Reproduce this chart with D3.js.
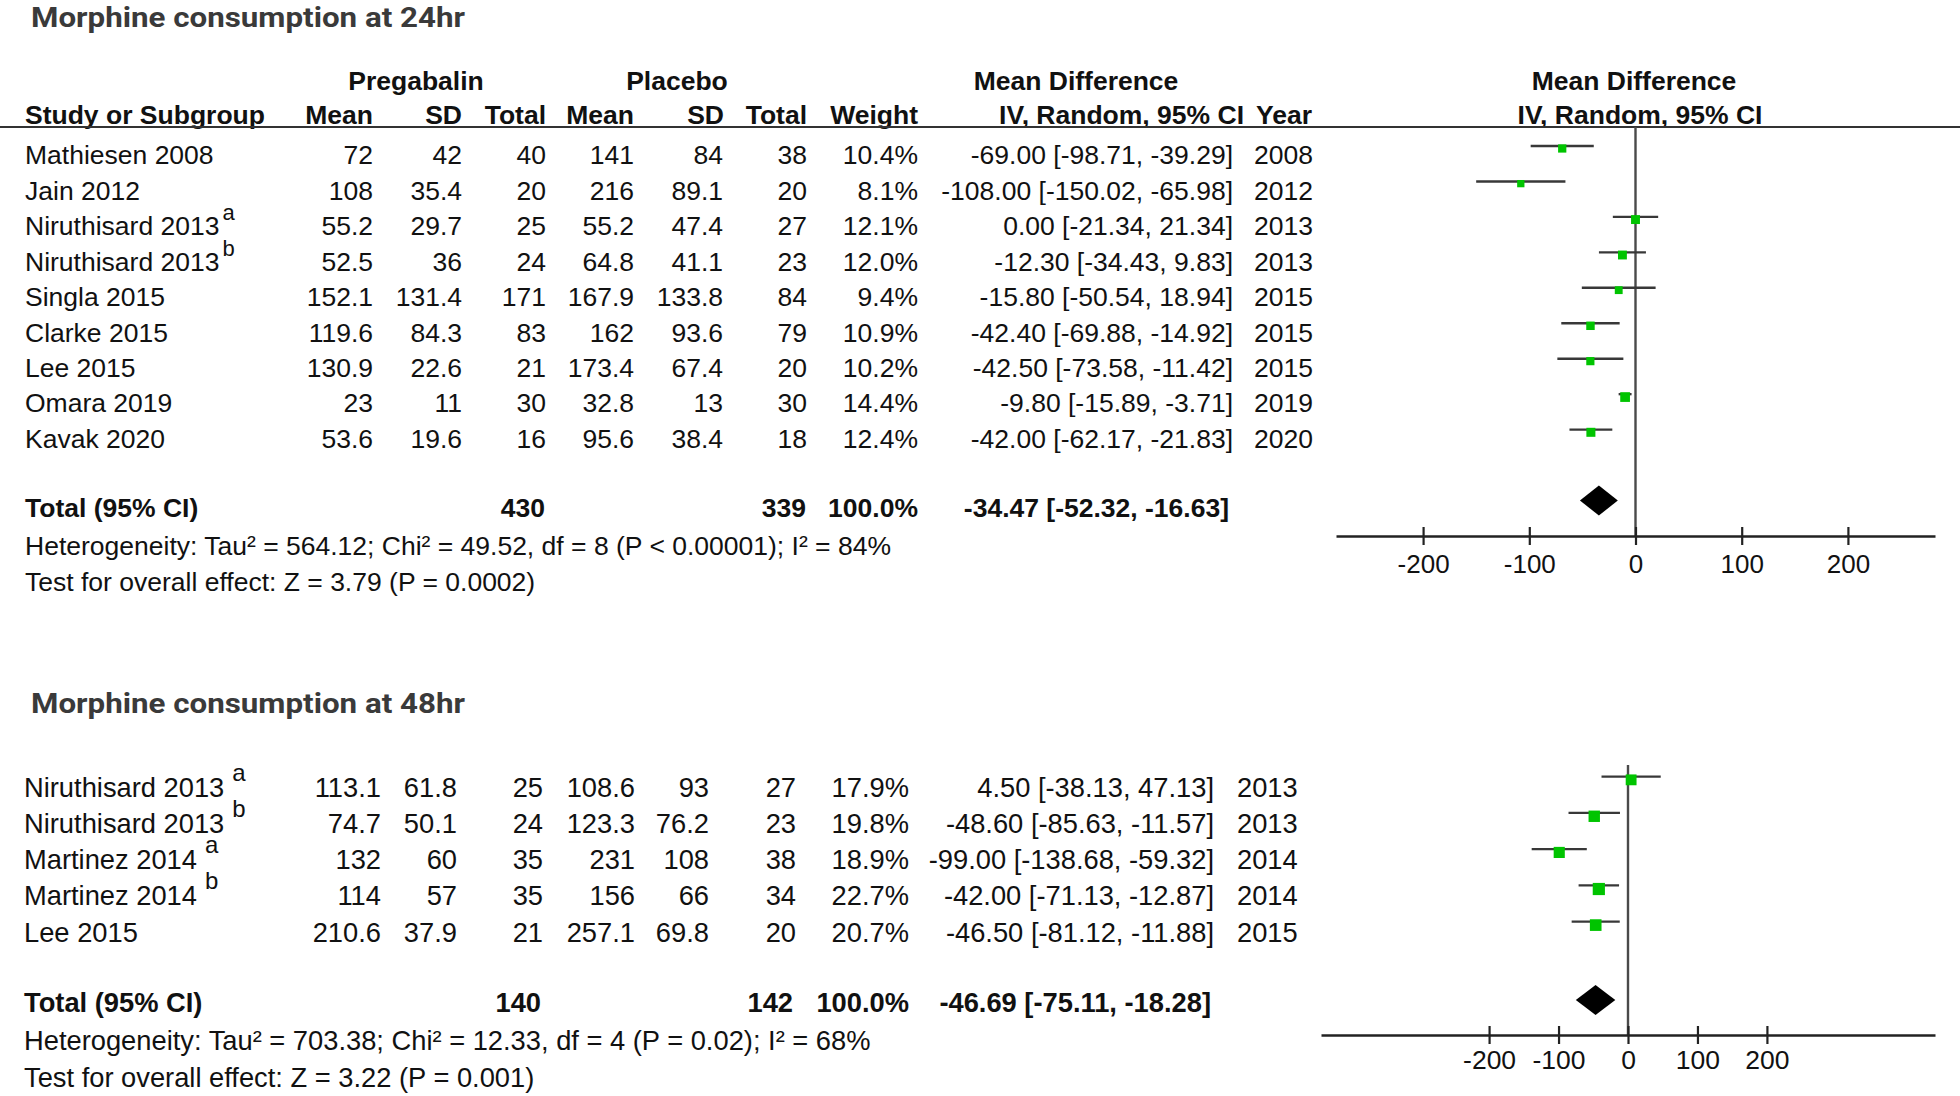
<!DOCTYPE html>
<html><head><meta charset="utf-8">
<script src="https://cdn.jsdelivr.net/npm/d3@7"></script>
<style>html,body{margin:0;padding:0;background:#fff;} svg{display:block;}</style>
</head><body>
<svg id="chart" width="1960" height="1096"></svg>
<script>
// ---------- DATA: Morphine consumption at 24hr ----------
const title24 = "Morphine consumption at 24hr";
const studies24 = ["Mathiesen 2008","Jain 2012","Niruthisard 2013","Niruthisard 2013","Singla 2015","Clarke 2015","Lee 2015","Omara 2019","Kavak 2020"];
const sup24 = ["","","a","b","","","","",""];
const pregMean24 = [72,108,55.2,52.5,152.1,119.6,130.9,23,53.6];
const pregSD24 = [42,35.4,29.7,36,131.4,84.3,22.6,11,19.6];
const pregN24 = [40,20,25,24,171,83,21,30,16];
const placMean24 = [141,216,55.2,64.8,167.9,162,173.4,32.8,95.6];
const placSD24 = [84,89.1,47.4,41.1,133.8,93.6,67.4,13,38.4];
const placN24 = [38,20,27,23,84,79,20,30,18];
const weight24 = [10.4,8.1,12.1,12.0,9.4,10.9,10.2,14.4,12.4];
const md24 = [-69.00,-108.00,0.00,-12.30,-15.80,-42.40,-42.50,-9.80,-42.00];
const lo24 = [-98.71,-150.02,-21.34,-34.43,-50.54,-69.88,-73.58,-15.89,-62.17];
const hi24 = [-39.29,-65.98,21.34,9.83,18.94,-14.92,-11.42,-3.71,-21.83];
const year24 = [2008,2012,2013,2013,2015,2015,2015,2019,2020];
const total24 = {pregN:430, placN:339, weight:100.0, md:-34.47, lo:-52.32, hi:-16.63};
const het24 = "Heterogeneity: Tau² = 564.12; Chi² = 49.52, df = 8 (P < 0.00001); I² = 84%";
const test24 = "Test for overall effect: Z = 3.79 (P = 0.0002)";

// ---------- DATA: Morphine consumption at 48hr ----------
const title48 = "Morphine consumption at 48hr";
const studies48 = ["Niruthisard 2013","Niruthisard 2013","Martinez 2014","Martinez 2014","Lee 2015"];
const sup48 = ["a","b","a","b",""];
const pregMean48 = [113.1,74.7,132,114,210.6];
const pregSD48 = [61.8,50.1,60,57,37.9];
const pregN48 = [25,24,35,35,21];
const placMean48 = [108.6,123.3,231,156,257.1];
const placSD48 = [93,76.2,108,66,69.8];
const placN48 = [27,23,38,34,20];
const weight48 = [17.9,19.8,18.9,22.7,20.7];
const md48 = [4.50,-48.60,-99.00,-42.00,-46.50];
const lo48 = [-38.13,-85.63,-138.68,-71.13,-81.12];
const hi48 = [47.13,-11.57,-59.32,-12.87,-11.88];
const year48 = [2013,2013,2014,2014,2015];
const total48 = {pregN:140, placN:142, weight:100.0, md:-46.69, lo:-75.11, hi:-18.28};
const het48 = "Heterogeneity: Tau² = 703.38; Chi² = 12.33, df = 4 (P = 0.02); I² = 68%";
const test48 = "Test for overall effect: Z = 3.22 (P = 0.001)";

// ---------- AXIS / HEADER LABELS ----------
const tickValues = [-200,-100,0,100,200];
const groupHeaders = ["Pregabalin","Placebo","Mean Difference","Mean Difference"];
const colHeaders = ["Study or Subgroup","Mean","SD","Total","Mean","SD","Total","Weight","IV, Random, 95% CI","Year","IV, Random, 95% CI"];
const totalLabel = "Total (95% CI)";

// ---------- DRAWING ----------
const svg = d3.select("#chart");
const FONT = "'Liberation Sans', Arial, Helvetica, sans-serif";
const INK = "#111";

function txt(g, x, y, s, o = {}) {
  return g.append("text").attr("x", x).attr("y", y).text(s)
    .attr("font-family", FONT).attr("font-size", o.size || 26.5)
    .attr("font-weight", o.bold ? "bold" : "normal")
    .attr("text-anchor", o.anchor || "start").attr("fill", o.fill || INK);
}
const fmtCI = (m, l, h) => `${m.toFixed(2)} [${l.toFixed(2)}, ${h.toFixed(2)}]`;

function drawTitle(y, s) {
  svg.append("text").attr("x", 31).attr("y", y).text(s)
    .attr("font-family", "Roboto, 'Open Sans', sans-serif")
    .attr("font-weight", 700).attr("font-size", 28.5).attr("fill", "#3a3a3a")
    .attr("textLength", 434).attr("lengthAdjust", "spacingAndGlyphs");
}

function drawPanel(p) {
  const g = svg.append("g");
  const n = p.studies.length;
  const yLine = d3.scaleLinear().domain([0, n - 1]).range(p.rowRange);
  const x = d3.scaleLinear().domain(p.domain).range(p.xRange);
  const size = d3.scaleSqrt().domain([0, 25]).range([0, 12.8]);
  const fs = p.fs, c = p.cols;
  const base = i => yLine(i) + p.textOff;

  // table rows
  p.studies.forEach((s, i) => {
    const t = txt(g, c.name, base(i), s, {size: fs});
    if (p.sup[i]) {
      const w = t.node().getComputedTextLength();
      txt(g, c.name + w + p.supGap, base(i) - p.supRaise, p.sup[i], {size: p.supSize});
    }
    txt(g, c.pm, base(i), p.pregMean[i], {size: fs, anchor: "end"});
    txt(g, c.psd, base(i), p.pregSD[i], {size: fs, anchor: "end"});
    txt(g, c.pn, base(i), p.pregN[i], {size: fs, anchor: "end"});
    txt(g, c.cm, base(i), p.placMean[i], {size: fs, anchor: "end"});
    txt(g, c.csd, base(i), p.placSD[i], {size: fs, anchor: "end"});
    txt(g, c.cn, base(i), p.placN[i], {size: fs, anchor: "end"});
    txt(g, c.w, base(i), p.weight[i].toFixed(1) + "%", {size: fs, anchor: "end"});
    txt(g, c.ci, base(i), fmtCI(p.md[i], p.lo[i], p.hi[i]), {size: fs, anchor: "end"});
    txt(g, c.year, base(i), p.year[i], {size: fs});
  });

  // totals
  const T = p.total, tb = p.totalBase, tc = p.totalCols;
  txt(g, c.name, tb, totalLabel, {size: fs, bold: true});
  txt(g, tc.pn, tb, T.pregN, {size: fs, bold: true, anchor: "end"});
  txt(g, tc.cn, tb, T.placN, {size: fs, bold: true, anchor: "end"});
  txt(g, tc.w, tb, T.weight.toFixed(1) + "%", {size: fs, bold: true, anchor: "end"});
  txt(g, tc.ci, tb, fmtCI(T.md, T.lo, T.hi), {size: fs, bold: true, anchor: "end"});
  txt(g, c.name, p.hetBase, p.het, {size: fs});
  txt(g, c.name, p.testBase, p.test, {size: fs});

  // zero line
  g.append("line").attr("x1", x(0)).attr("x2", x(0))
    .attr("y1", p.zeroTop).attr("y2", p.axisY)
    .attr("stroke", "#4a4a4a").attr("stroke-width", 2.4);

  // CI lines
  g.selectAll(".ci").data(d3.range(n)).join("line")
    .attr("x1", i => x(p.lo[i])).attr("x2", i => x(p.hi[i]))
    .attr("y1", i => yLine(i)).attr("y2", i => yLine(i))
    .attr("stroke", "#383838").attr("stroke-width", 2.4);

  // squares
  g.selectAll(".sq").data(d3.range(n)).join("rect")
    .attr("x", i => x(p.md[i]) - size(p.weight[i]) / 2)
    .attr("y", i => yLine(i) + size(p.weight[i]) * 0.3 - size(p.weight[i]) / 2)
    .attr("width", i => size(p.weight[i])).attr("height", i => size(p.weight[i]))
    .attr("fill", "#00c400");

  // diamond
  const dy = p.diamondY, hh = 15;
  g.append("path")
    .attr("d", `M${x(T.lo)},${dy} L${x(T.md)},${dy - hh} L${x(T.hi)},${dy} L${x(T.md)},${dy + hh} Z`)
    .attr("fill", "#000");

  // axis
  const ax = g.append("g").attr("transform", `translate(0,${p.axisY})`)
    .call(d3.axisBottom(x).tickValues(tickValues).tickSizeOuter(0).tickSizeInner(9).tickFormat(d3.format("d")));
  ax.select(".domain").attr("stroke", "#222").attr("stroke-width", 2.6);
  ax.selectAll(".tick line").attr("y1", -9).attr("y2", 9).attr("stroke", "#222").attr("stroke-width", 2.2);
  ax.selectAll(".tick text").attr("y", p.labelOff).attr("dy", 0)
    .attr("font-family", FONT).attr("font-size", p.tickFs).attr("fill", INK)
    .text(d => d < 0 ? "-" + Math.abs(d) : d);
}

// ---- Top panel ----
drawTitle(27, title24);
{
  const g = svg.append("g");
  txt(g, 416, 90, groupHeaders[0], {bold: true, anchor: "middle"});
  txt(g, 677, 90, groupHeaders[1], {bold: true, anchor: "middle"});
  txt(g, 1076, 90, groupHeaders[2], {bold: true, anchor: "middle"});
  txt(g, 1634, 90, groupHeaders[3], {bold: true, anchor: "middle"});
  const hx = [25, 373, 462, 546, 634, 724, 807, 918, 1244, 1256, 1640];
  const ha = ["start","end","end","end","end","end","end","end","end","start","middle"];
  colHeaders.forEach((h, i) => txt(g, hx[i], 124, h, {bold: true, anchor: ha[i]}));
  g.append("line").attr("x1", 0).attr("x2", 1960).attr("y1", 127).attr("y2", 127)
    .attr("stroke", "#333").attr("stroke-width", 2.2);
}
drawPanel({
  studies: studies24, sup: sup24, pregMean: pregMean24, pregSD: pregSD24, pregN: pregN24,
  placMean: placMean24, placSD: placSD24, placN: placN24, weight: weight24,
  md: md24, lo: lo24, hi: hi24, year: year24, total: total24, het: het24, test: test24,
  rowRange: [146, 429.6], textOff: 18.3, fs: 26.5, tickFs: 26, supSize: 22, supRaise: 15, supGap: 3,
  cols: {name: 25, pm: 373, psd: 462, pn: 546, cm: 634, csd: 723, cn: 807, w: 918, ci: 1233, year: 1254},
  totalCols: {pn: 545, cn: 806, w: 918, ci: 1229},
  totalBase: 516.5, diamondY: 500.5, hetBase: 555, testBase: 590.5,
  domain: [-282, 282], xRange: [1336, 1935], axisY: 536, zeroTop: 127, labelOff: 37
});

// ---- Bottom panel ----
drawTitle(713, title48);
drawPanel({
  studies: studies48, sup: sup48, pregMean: pregMean48, pregSD: pregSD48, pregN: pregN48,
  placMean: placMean48, placSD: placSD48, placN: placN48, weight: weight48,
  md: md48, lo: lo48, hi: hi48, year: year48, total: total48, het: het48, test: test48,
  rowRange: [776.6, 921.6], textOff: 20, fs: 27.3, tickFs: 26.5, supSize: 24, supRaise: 16, supGap: 8,
  cols: {name: 24, pm: 381, psd: 457, pn: 543, cm: 635, csd: 709, cn: 796, w: 909, ci: 1214, year: 1237},
  totalCols: {pn: 541, cn: 793, w: 909, ci: 1211},
  totalBase: 1011.5, diamondY: 1000, hetBase: 1050, testBase: 1086.5,
  domain: [-442, 442], xRange: [1321, 1935], axisY: 1035, zeroTop: 765, labelOff: 34
});
</script>
</body></html>
